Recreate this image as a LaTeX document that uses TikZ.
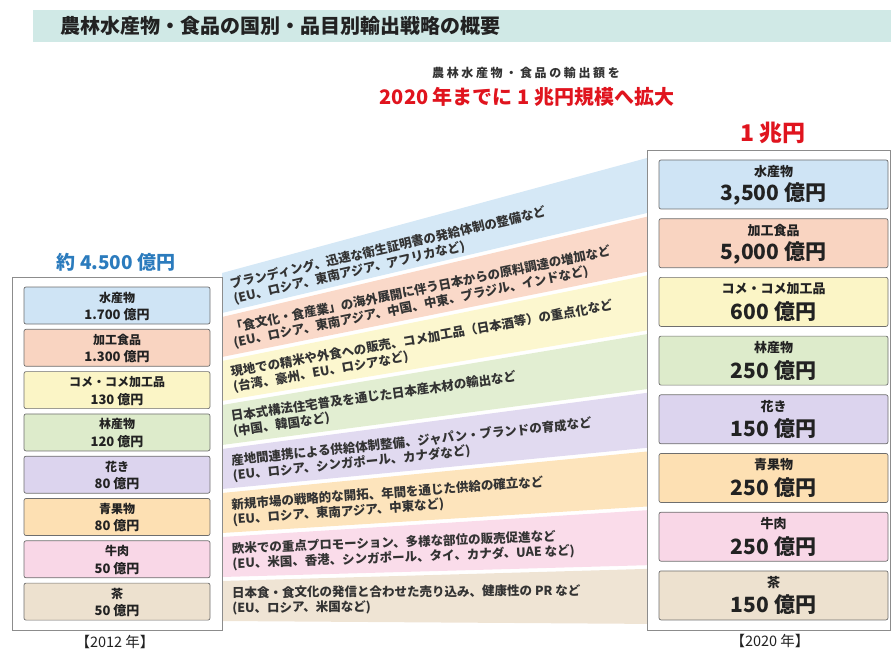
\documentclass[tikz,border=0pt]{standalone}
\usepackage{fontspec}
\setmainfont{Noto Sans CJK JP}
\definecolor{titlebg}{HTML}{D0E9E6}
\definecolor{boxline}{HTML}{6E6E6E}
\definecolor{frameline}{HTML}{8C8C8C}
\definecolor{txtdark}{HTML}{222222}
\definecolor{txtband}{HTML}{333333}
\definecolor{redtxt}{HTML}{E0141E}
\definecolor{bluetxt}{HTML}{2B7BBD}
\definecolor{c0}{HTML}{CFE4F5}\definecolor{b0}{HTML}{D5E8F6}
\definecolor{c1}{HTML}{F9D4C1}\definecolor{b1}{HTML}{FAD9C9}
\definecolor{c2}{HTML}{FBF5C6}\definecolor{b2}{HTML}{FCF7CF}
\definecolor{c3}{HTML}{DDEBCB}\definecolor{b3}{HTML}{E2EED2}
\definecolor{c4}{HTML}{DCD4EE}\definecolor{b4}{HTML}{E1DAF0}
\definecolor{c5}{HTML}{FDE0B3}\definecolor{b5}{HTML}{FDE4BC}
\definecolor{c6}{HTML}{F9D7E7}\definecolor{b6}{HTML}{FADCEA}
\definecolor{c7}{HTML}{EDE1CF}\definecolor{b7}{HTML}{EFE4D4}
\begin{document}
\begin{tikzpicture}[x=1pt,y=-1pt,
  boxL/.style={draw=boxline, line width=0.7pt, rounded corners=2pt, minimum width=186pt, minimum height=37pt, inner sep=0pt},
  boxR/.style={draw=boxline, line width=0.7pt, rounded corners=2pt, minimum width=229pt, minimum height=49pt, inner sep=0pt},
  frame/.style={draw=frameline, line width=0.8pt},
  plain/.style={inner sep=0pt, text=txtdark},
  bandtxt/.style={anchor=west, align=left, inner sep=0pt, text=txtband, font=\bfseries\fontsize{12.5}{15}\selectfont}]
\useasboundingbox (0,0) rectangle (891,652);
% title bar
\fill[titlebg] (33,10) rectangle (891,42);
\node[plain, anchor=west, font=\bfseries\fontsize{20}{20}\selectfont] (title) at (60,26) {農林水産物・食品の国別・品目別輸出戦略の概要};
% headline
\node[plain, text=txtband, font=\bfseries\fontsize{12}{12}\selectfont\addfontfeatures{LetterSpace=22}] (sub1) at (526,73) {農林水産物・食品の輸出額を};
\node[plain, text=redtxt, font=\bfseries\fontsize{20}{20}\selectfont] (sub2) at (527,97) {2020 年までに 1 兆円規模へ拡大};
\node[plain, text=redtxt, font=\bfseries\fontsize{23}{23}\selectfont] (total20) at (773,133) {1 兆円};
\node[plain, text=bluetxt, font=\bfseries\fontsize{19}{19}\selectfont] (total12) at (116,262) {約 4.500 億円};
% bands, boxes, texts
\foreach \i/\nm/\la/\ra/\ang/\tA/\tB in {
 0/水産物/{1.700 億円}/{3,500 億円}/13/{ブランディング、迅速な衛生証明書の発給体制の整備など}/{(EU、ロシア、東南アジア、アフリカなど)},
 1/加工食品/{1.300 億円}/{5,000 億円}/11.5/{「食文化・食産業」の海外展開に伴う日本からの原料調達の増加など}/{(EU、ロシア、東南アジア、中国、中東、ブラジル、インドなど)},
 2/コメ・コメ加工品/{130 億円}/{600 億円}/10/{現地での精米や外食への販売、コメ加工品（日本酒等）の重点化など}/{(台湾、豪州、EU、ロシアなど)},
 3/林産物/{120 億円}/{250 億円}/8/{日本式構法住宅普及を通じた日本産木材の輸出など}/{(中国、韓国など)},
 4/花き/{80 億円}/{150 億円}/6/{産地間連携による供給体制整備、ジャパン・ブランドの育成など}/{(EU、ロシア、シンガポール、カナダなど)},
 5/青果物/{80 億円}/{250 億円}/4.2/{新規市場の戦略的な開拓、年間を通じた供給の確立など}/{(EU、ロシア、東南アジア、中東など)},
 6/牛肉/{50 億円}/{250 億円}/2.2/{欧米での重点プロモーション、多様な部位の販売促進など}/{(EU、米国、香港、シンガポール、タイ、カナダ、UAE など)},
 7/茶/{50 億円}/{150 億円}/0.3/{日本食・食文化の発信と合わせた売り込み、健康性の PR など}/{(EU、ロシア、米国など)}}{
  \pgfmathsetmacro\ylc{293+44*\i}
  \pgfmathsetmacro\rt{158+58.7*\i}
  \fill[b\i] (222,\ylc-20) -- (647,\rt) -- (647,\rt+55) -- (222,\ylc+20) -- cycle;
  \pgfmathsetmacro\ytxt{292+44.1*\i}
  \node[bandtxt, rotate=\ang] (T\i) at (232,\ytxt) {\tA\\\tB};
  \pgfmathsetmacro\yl{305.5+42.3*\i}
  \node[boxL, fill=c\i] (L\i) at (117,\yl) {};
  \node[plain, font=\bfseries\fontsize{12}{12}\selectfont] (Ln\i) at (117,\yl-8) {\nm};
  \node[plain, font=\bfseries\fontsize{13}{13}\selectfont] (La\i) at (117,\yl+9) {\la};
  \pgfmathsetmacro\yr{184.5+58.7*\i}
  \node[boxR, fill=c\i] (R\i) at (773.5,\yr) {};
  \node[plain, font=\bfseries\fontsize{13}{13}\selectfont] (Rn\i) at (773.5,\yr-13) {\nm};
  \node[plain, font=\bfseries\fontsize{21}{21}\selectfont] (Ra\i) at (773.5,\yr+9.5) {\ra};
}
% frames
\draw[frame] (12,277) rectangle (222,630);
\draw[frame] (647,150) rectangle (890,630);
% years
\node[plain, font=\fontsize{14.5}{14.5}\selectfont] (y12) at (115,642) {【2012 年】};
\node[plain, font=\fontsize{14.5}{14.5}\selectfont] (y20) at (770,641) {【2020 年】};
\end{tikzpicture}
\end{document}
